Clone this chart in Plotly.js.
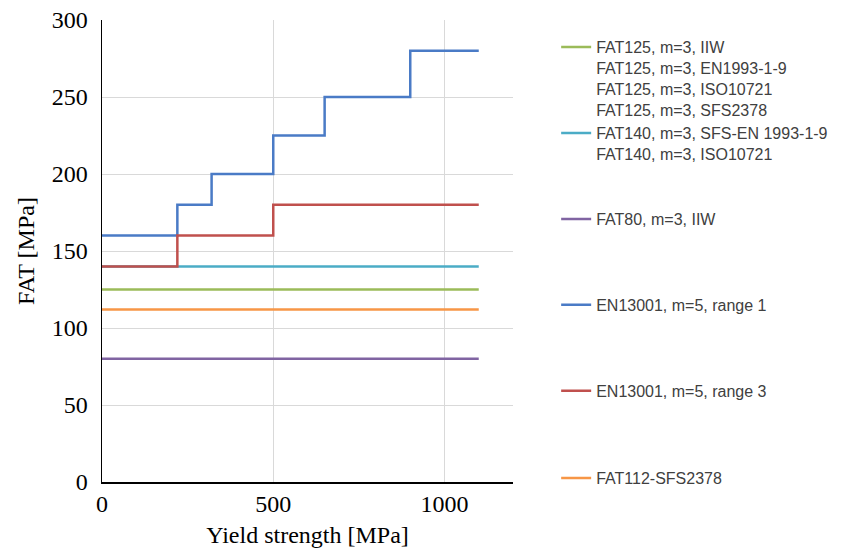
<!DOCTYPE html>
<html>
<head>
<meta charset="utf-8">
<script src="https://cdn.plot.ly/plotly-3.0.1.min.js"></script>
<style>html,body{margin:0;padding:0;background:#fff;}#chart{width:861px;height:552px;}</style>
</head>
<body>
<div id="chart"></div>
<script>
// Data
var seriesNames = [
  "FAT125, m=3, IIW<br>FAT125, m=3, EN1993-1-9<br>FAT125, m=3, ISO10721<br>FAT125, m=3, SFS2378",
  "FAT140, m=3, SFS-EN 1993-1-9<br>FAT140, m=3, ISO10721",
  "FAT80, m=3, IIW",
  "EN13001, m=5, range 1",
  "EN13001, m=5, range 3",
  "FAT112-SFS2378"
];
var fat125X = [0, 1100];
var fat125Y = [125, 125];
var fat140X = [0, 1100];
var fat140Y = [140, 140];
var fat80X = [0, 1100];
var fat80Y = [80, 80];
var en13001r1X = [0, 220, 320, 500, 650, 900, 1100];
var en13001r1Y = [160, 180, 200, 225, 250, 280, 280];
var en13001r3X = [0, 220, 500, 1100];
var en13001r3Y = [140, 160, 180, 180];
var fat112X = [0, 1100];
var fat112Y = [112, 112];
var xTicks = [0, 500, 1000];
var yTicks = [0, 50, 100, 150, 200, 250, 300];

var colors = ["#9BBB59", "#4BACC6", "#8064A2", "#4A7BC6", "#C0504D", "#F79646"];
var xs = [fat125X, fat140X, fat80X, en13001r1X, en13001r3X, fat112X];
var ys = [fat125Y, fat140Y, fat80Y, en13001r1Y, en13001r3Y, fat112Y];
var shapes = ["linear", "linear", "linear", "hv", "hv", "linear"];
var legendIds = ["legend", "legend2", "legend3", "legend4", "legend5", "legend6"];
var legendY = [0.978, 0.792, 0.606, 0.420, 0.234, 0.045];

var traces = [];
for (var i = 0; i < 6; i++) {
  traces.push({
    x: xs[i], y: ys[i], mode: "lines", type: "scatter",
    name: seriesNames[i],
    line: {color: colors[i], width: 2.5, shape: shapes[i]},
    legend: legendIds[i],
    hoverinfo: "skip"
  });
}

var layout = {
  width: 861, height: 552,
  margin: {l: 102, r: 348, t: 20, b: 70},
  paper_bgcolor: "#ffffff",
  plot_bgcolor: "#ffffff",
  xaxis: {
    range: [0, 1200], tickvals: xTicks, ticktext: xTicks.map(String),
    showgrid: true, gridcolor: "#d9d9d9", gridwidth: 1,
    showline: true, linecolor: "#000000", linewidth: 1.5,
    zeroline: false, ticks: "", ticklabelstandoff: 0,
    tickfont: {family: "Liberation Serif", size: 24, color: "#000"},
    title: {text: "Yield strength [MPa]", font: {family: "Liberation Serif", size: 24, color: "#000"}, standoff: 10}
  },
  yaxis: {
    range: [0, 300], tickvals: yTicks, ticktext: yTicks.map(String),
    showgrid: true, gridcolor: "#d9d9d9", gridwidth: 1,
    showline: true, linecolor: "#000000", linewidth: 1.5,
    zeroline: false, ticks: "", ticklabelstandoff: 8,
    tickfont: {family: "Liberation Serif", size: 24, color: "#000"},
    title: {text: "FAT [MPa]", font: {family: "Liberation Serif", size: 24, color: "#000"}, standoff: 10}
  },
  showlegend: true
};
for (var j = 0; j < 6; j++) {
  layout[legendIds[j]] = {
    x: 1.105, xanchor: "left", y: legendY[j], yanchor: "top",
    valign: "top", bgcolor: "rgba(0,0,0,0)", borderwidth: 0,
    font: {family: "Liberation Sans", size: 16, color: "#404040"}
  };
}

Plotly.newPlot("chart", traces, layout, {displayModeBar: false, staticPlot: true});
</script>
</body>
</html>
